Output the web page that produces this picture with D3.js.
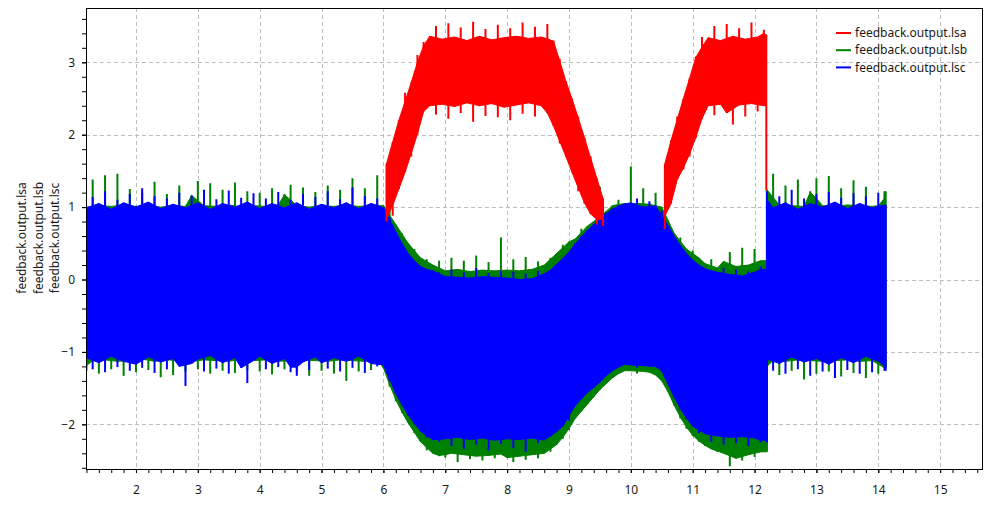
<!DOCTYPE html>
<html>
<head>
<meta charset="utf-8">
<script src="https://cdn.jsdelivr.net/npm/d3@7"></script>
<style>
body { margin: 0; background: #fff; }
svg text { font-family: "Segoe UI", "Noto Sans", "Open Sans", sans-serif; font-size: 12px; fill: #1a1a1a; }
</style>
</head>
<body>
<svg id="chart" width="990" height="505"></svg>
<script>
// Set data (envelopes, one sample every 0.1 s)
const t0 = 1.2, dt = 0.1, tEnd = 14.12;
const jumpT = 12.2;   // lsb / lsc step back up here

const lscHi = [0.99, 1.14, 1.05, 1.22, 0.97, 1.10, 1.06, 1.18,
    1.00, 1.26, 1.07, 1.15, 0.98, 1.12, 1.04, 1.20, 0.99, 1.16,
    1.06, 1.24, 0.97, 1.11, 1.05, 1.23, 1.00, 1.13, 1.07, 1.19,
    0.98, 1.12, 1.05, 1.21, 0.99, 1.10, 1.06, 1.18, 0.97, 1.14,
    1.04, 1.22, 0.99, 1.11, 1.06, 1.27, 0.98, 1.15, 1.05, 1.12,
    1.00, 0.86, 0.66, 0.50, 0.36, 0.26, 0.18, 0.14, 0.12, 0.10,
    0.04, 0.14, 0.03, 0.10, 0.02, 0.16, 0.04, 0.09, 0.03, 0.12,
    0.02, 0.11, 0.00, 0.08, 0.01, 0.12, 0.08, 0.13, 0.21, 0.29,
    0.38, 0.50, 0.60, 0.68, 0.76, 0.84, 0.92, 0.98, 1.02, 1.05,
    1.06, 1.12, 1.00, 1.08, 1.02, 0.95, 0.75, 0.60, 0.47, 0.36,
    0.27, 0.20, 0.15, 0.12, 0.10, 0.16, 0.07, 0.14, 0.05, 0.11,
    0.10, 0.18, 1.22, 0.99, 1.15, 1.06, 1.24, 0.97, 1.12, 1.05,
    1.18, 1.00, 1.21, 1.07, 1.13, 0.98, 1.19, 1.05, 1.15, 0.99,
    1.20, 1.03];
const lscLo = [-1.08, -1.24, -1.15, -1.28, -1.06, -1.21, -1.13, -1.26,
    -1.17, -1.22, -1.07, -1.29, -1.14, -1.24, -1.09, -1.20, -1.47, -1.16,
    -1.10, -1.27, -1.05, -1.23, -1.15, -1.30, -1.08, -1.22, -1.43, -1.12,
    -1.06, -1.24, -1.16, -1.21, -1.09, -1.28, -1.33, -1.14, -1.25, -1.07,
    -1.15, -1.23, -1.08, -1.27, -1.13, -1.22, -1.06, -1.29, -1.16, -1.20,
    -1.18, -1.40, -1.58, -1.74, -1.88, -2.00, -2.10, -2.18, -2.22, -2.24,
    -2.20, -2.30, -2.18, -2.34, -2.21, -2.28, -2.19, -2.36, -2.22, -2.27,
    -2.20, -2.33, -2.21, -2.38, -2.19, -2.26, -2.22, -2.17, -2.10, -2.03,
    -1.95, -1.74, -1.65, -1.56, -1.50, -1.42, -1.33, -1.26, -1.21, -1.17,
    -1.18, -1.22, -1.19, -1.21, -1.20, -1.26, -1.45, -1.63, -1.80, -1.93,
    -2.03, -2.12, -2.13, -2.24, -2.16, -2.28, -2.18, -2.26, -2.17, -2.30,
    -2.19, -2.25, -1.10, -1.26, -1.16, -1.30, -1.07, -1.24, -1.14, -1.33,
    -1.09, -1.27, -1.17, -1.36, -1.08, -1.25, -1.15, -1.30, -1.06, -1.28,
    -1.13, -1.26];

const lsbHi = [1.00, 1.38, 1.02, 1.44, 1.01, 1.46, 1.03, 1.25,
    1.01, 1.20, 1.02, 1.35, 1.00, 1.18, 1.02, 1.30, 1.01, 1.16,
    1.36, 1.02, 1.33, 1.01, 1.24, 1.03, 1.34, 1.00, 1.22, 1.02,
    1.20, 1.01, 1.26, 1.03, 1.18, 1.31, 1.02, 1.27, 1.00, 1.21,
    1.02, 1.30, 1.01, 1.24, 1.03, 1.40, 1.01, 1.26, 1.02, 1.44,
    1.02, 0.96, 0.76, 0.64, 0.50, 0.42, 0.30, 0.28, 0.20, 0.26,
    0.12, 0.30, 0.14, 0.26, 0.11, 0.33, 0.13, 0.24, 0.12, 0.58,
    0.13, 0.28, 0.12, 0.31, 0.14, 0.25, 0.20, 0.30, 0.36, 0.48,
    0.52, 0.56, 0.70, 0.74, 0.80, 1.28, 0.94, 1.02, 1.10, 1.05,
    1.56, 1.05, 1.26, 1.04, 1.20, 1.00, 0.82, 0.64, 0.58, 0.42,
    0.40, 0.30, 0.22, 0.28, 0.16, 0.25, 0.38, 0.18, 0.44, 0.20,
    0.42, 0.26, 1.24, 1.46, 1.03, 1.30, 1.02, 1.38, 1.01, 1.22,
    1.40, 1.02, 1.43, 1.01, 1.26, 1.03, 1.37, 1.02, 1.28, 1.01,
    1.02, 1.22];
const lsbLo = [-1.26, -1.12, -1.30, -1.11, -1.24, -1.13, -1.33, -1.12,
    -1.28, -1.10, -1.25, -1.13, -1.35, -1.11, -1.32, -1.12, -1.27, -1.13,
    -1.24, -1.11, -1.30, -1.12, -1.26, -1.13, -1.29, -1.10, -1.25, -1.12,
    -1.27, -1.11, -1.31, -1.13, -1.24, -1.12, -1.28, -1.11, -1.33, -1.12,
    -1.26, -1.13, -1.30, -1.11, -1.40, -1.12, -1.27, -1.13, -1.25, -1.11,
    -1.22, -1.48, -1.68, -1.84, -1.98, -2.12, -2.24, -2.36, -2.40, -2.44,
    -2.46, -2.40, -2.52, -2.42, -2.48, -2.44, -2.50, -2.43, -2.47, -2.41,
    -2.46, -2.52, -2.44, -2.49, -2.42, -2.47, -2.40, -2.38, -2.28, -2.20,
    -2.08, -1.92, -1.82, -1.72, -1.62, -1.52, -1.44, -1.36, -1.30, -1.26,
    -1.26, -1.30, -1.27, -1.28, -1.32, -1.40, -1.55, -1.74, -1.92, -2.06,
    -2.16, -2.24, -2.30, -2.34, -2.38, -2.40, -2.58, -2.47, -2.50, -2.42,
    -2.45, -2.38, -1.28, -1.12, -1.32, -1.13, -1.26, -1.11, -1.38, -1.12,
    -1.30, -1.13, -1.27, -1.12, -1.34, -1.11, -1.29, -1.13, -1.36, -1.12,
    -1.30, -1.22];

// lsa is only visible above the other two in two stretches
const lsaStartA = 6.05, lsaEndA = 9.55;
const lsaHiA = [1.60, 1.90, 2.20, 2.58, 2.72, 3.10, 3.28, 3.36, 3.50, 3.32,
    3.54, 3.35, 3.48, 3.30, 3.56, 3.36, 3.46, 3.31, 3.52, 3.34,
    3.47, 3.36, 3.55, 3.33, 3.49, 3.35, 3.53, 3.30, 3.05, 2.74,
    2.50, 2.25, 1.96, 1.70, 1.40];
const lsaLoA = [0.80, 0.88, 1.25, 1.48, 1.70, 2.00, 2.32, 2.40, 2.28, 2.42,
    2.22, 2.39, 2.30, 2.44, 2.18, 2.40, 2.26, 2.43, 2.24, 2.38,
    2.20, 2.41, 2.29, 2.44, 2.25, 2.40, 2.30, 2.12, 1.88, 1.70,
    1.48, 1.22, 1.05, 0.90, 0.76];
const lsaEndValsA = [1.12, 0.74];
const lsaStartB = 10.55, lsaEndB = 12.19;
const lsaHiB = [1.60, 1.92, 2.25, 2.50, 2.78, 3.08, 3.35, 3.34, 3.50, 3.30,
    3.53, 3.36, 3.47, 3.32, 3.55, 3.35, 3.45];
const lsaLoB = [0.70, 1.05, 1.38, 1.52, 1.70, 1.95, 2.22, 2.40, 2.27, 2.42,
    2.30, 2.14, 2.41, 2.25, 2.43, 2.32, 2.40];
const lsaEndValsB = [3.38, 1.23];   // last sample, where lsa falls back

const seriesNames = ["feedback.output.lsa", "feedback.output.lsb", "feedback.output.lsc"];
const seriesColors = ["#ff0000", "#008000", "#0000ff"];
const xTicks = [2, 3, 4, 5, 6, 7, 8, 9, 10, 11, 12, 13, 14, 15];
const yTicks = [-2, -1, 0, 1, 2, 3];


// Set width and height
const width = 990;
const height = 505;
const margin = {top: 8, right: 7.5, bottom: 36, left: 86};
const plotW = width - margin.left - margin.right;
const plotH = height - margin.top - margin.bottom;

const svg = d3.select("#chart")
    .attr("width", width)
    .attr("height", height);

const x = d3.scaleLinear().domain([1.192, 15.685]).range([0, plotW]);
const y = d3.scaleLinear().domain([-2.617, 3.75]).range([plotH, 0]);

const g = svg.append("g")
    .attr("transform", "translate(" + margin.left + "," + margin.top + ")");

g.append("clipPath").attr("id", "plotClip")
    .append("rect").attr("width", plotW).attr("height", plotH);


// functions
// samples -> rows; the "core" is the solid body, the rest shows as needles
const toRows = function(start, hi, lo){
    return hi.map((h, i) => {
        const hp = i > 0 ? hi[i - 1] : h, hn = i < hi.length - 1 ? hi[i + 1] : h;
        const lp = i > 0 ? lo[i - 1] : lo[i], ln = i < lo.length - 1 ? lo[i + 1] : lo[i];
        return {
            t: start + i * dt, hi: h, lo: lo[i],
            coreHi: Math.min(h, (hp + hn) / 2),
            coreLo: Math.max(lo[i], (lp + ln) / 2)
        };
    });
}

const closeRows = function(rows, endT, endVals){
    const last = rows[rows.length - 1];
    const end = Object.assign({}, last, {t: endT});
    if (endVals) {
        end.hi = endVals[0]; end.lo = endVals[1];
        end.coreHi = Math.min(endVals[0], last.coreHi);
        end.coreLo = Math.max(endVals[1], last.coreLo);
    }
    rows.push(end);
    return rows;
}

const drawBand = function(layer, rows, color){
    const area = d3.area()
        .x(d => x(d.t))
        .y0(d => y(d.coreLo))
        .y1(d => y(d.coreHi));
    layer.append("path")
        .datum(rows)
        .attr("d", area)
        .attr("fill", color)
        .attr("stroke", color)
        .attr("stroke-width", 1);
    layer.append("g").selectAll("line").data(rows).join("line")
        .attr("x1", d => x(d.t)).attr("x2", d => x(d.t))
        .attr("y1", d => y(d.hi)).attr("y2", d => y(d.lo))
        .attr("stroke", color)
        .attr("stroke-width", 2);
}

const drawSplitSeries = function(layer, hi, lo, color){
    const k = Math.round((jumpT - t0) / dt);
    drawBand(layer, closeRows(toRows(t0, hi.slice(0, k), lo.slice(0, k)), jumpT), color);
    drawBand(layer, closeRows(toRows(jumpT, hi.slice(k), lo.slice(k)), tEnd), color);
}

const range2 = (a, b) => d3.range(Math.round(a * 5), Math.round(b * 5) + 1).map(v => v / 5);


// grid
g.append("g").selectAll("line").data(xTicks).join("line")
    .attr("x1", d => Math.round(x(d)) + 0.5).attr("x2", d => Math.round(x(d)) + 0.5)
    .attr("y1", 0).attr("y2", plotH)
    .attr("stroke", "#bdbdbd").attr("stroke-dasharray", "4,3");
g.append("g").selectAll("line").data(yTicks).join("line")
    .attr("y1", d => Math.round(y(d)) + 0.5).attr("y2", d => Math.round(y(d)) + 0.5)
    .attr("x1", 0).attr("x2", plotW)
    .attr("stroke", "#bdbdbd").attr("stroke-dasharray", "4,3");


// series: lsb, lsc, then lsa on top
const layer = g.append("g").attr("clip-path", "url(#plotClip)");
drawSplitSeries(layer, lsbHi, lsbLo, seriesColors[1]);
drawSplitSeries(layer, lscHi, lscLo, seriesColors[2]);
drawBand(layer, closeRows(toRows(lsaStartA, lsaHiA, lsaLoA), lsaEndA, lsaEndValsA), seriesColors[0]);
drawBand(layer, closeRows(toRows(lsaStartB, lsaHiB, lsaLoB), lsaEndB, lsaEndValsB), seriesColors[0]);


// axes
const xMinor = g.append("g").attr("transform", "translate(0," + plotH + ")")
    .call(d3.axisBottom(x).tickValues(range2(1.2, 15.6)).tickSize(4).tickFormat(""));
const xMajor = g.append("g").attr("transform", "translate(0," + plotH + ")")
    .call(d3.axisBottom(x).tickValues(xTicks).tickSize(4).tickPadding(12).tickFormat(d3.format("d")));
const yMinor = g.append("g")
    .call(d3.axisLeft(y).tickValues(range2(-2.6, 3.6)).tickSize(4).tickFormat(""));
const yMajor = g.append("g")
    .call(d3.axisLeft(y).tickValues(yTicks).tickSize(4).tickPadding(7).tickFormat(d3.format("d")));

for (const ax of [xMinor, xMajor, yMinor, yMajor]) {
    ax.select(".domain").remove();
    ax.selectAll("line").attr("stroke", "#000");
    ax.selectAll("text").attr("font-size", 12).attr("font-family", null).attr("fill", "#1a1a1a");
}

// frame
g.append("rect")
    .attr("x", 0.5).attr("y", 0.5)
    .attr("width", plotW - 0.5).attr("height", plotH)
    .attr("fill", "none").attr("stroke", "#000").attr("stroke-width", 1);


// y title, one line per series
svg.append("g")
    .attr("transform", "translate(0,238)")
    .selectAll("text").data(seriesNames).join("text")
    .attr("transform", (d, i) => "translate(" + (26 + i * 16.5) + ",0) rotate(-90)")
    .attr("text-anchor", "middle")
    .text(d => d);


// legend
const legend = svg.append("g").attr("transform", "translate(836,33)");
const legendRow = legend.selectAll("g").data(seriesNames).join("g")
    .attr("transform", (d, i) => "translate(0," + (i * 17.2) + ")");
legendRow.append("line")
    .attr("x1", 0).attr("x2", 15)
    .attr("stroke", (d, i) => seriesColors[i]).attr("stroke-width", 2);
legendRow.append("text")
    .attr("x", 19).attr("dy", "0.35em")
    .text(d => d);
</script>
</body>
</html>
